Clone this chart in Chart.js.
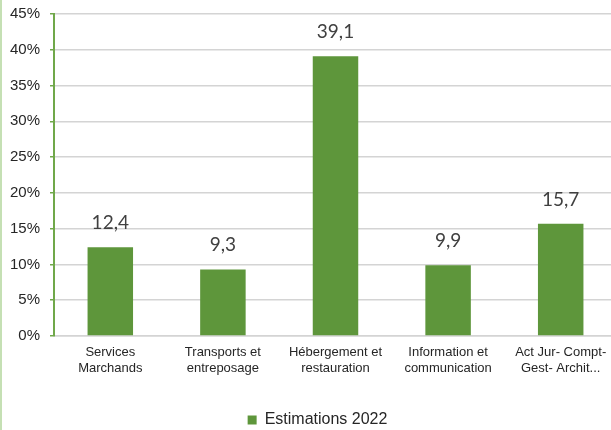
<!DOCTYPE html>
<html>
<head>
<meta charset="utf-8">
<script src="https://cdn.jsdelivr.net/npm/chart.js@4"></script>
<style>
  html, body { margin: 0; padding: 0; overflow: hidden; background: #fff; }
  .wrap { position: absolute; left: 0; top: 0; width: 618px; height: 430px; border-left: 2px solid #c5e0b4; }
</style>
</head>
<body>
<div class="wrap"><canvas class="my-chart" width="618" height="430"></canvas></div>
<script>
const categories = [
    ["Services", "Marchands"],
    ["Transports et", "entreposage"],
    ["Hébergement et", "restauration"],
    ["Information et", "communication"],
    ["Act Jur- Compt-", "Gest- Archit..."]
]
const values = [12.4, 9.3, 39.1, 9.9, 15.7]
const seriesName = "Estimations 2022"
const yTicks = [0, 5, 10, 15, 20, 25, 30, 35, 40, 45]

const green = "#5e963b"

// labels above the bars, french decimal comma
const barValues = {
    id: "barValues",
    afterDatasetsDraw(chart) {
        const ctx = chart.ctx
        const meta = chart.getDatasetMeta(0)
        ctx.save()
        ctx.font = "19px Lato"
        ctx.fillStyle = "#404040"
        ctx.textAlign = "center"
        ctx.textBaseline = "alphabetic"
        meta.data.forEach((bar, i) => {
            ctx.fillText(values[i].toFixed(1).replace(".", ","), bar.x, bar.y - 18)
        })
        ctx.restore()
    }
}

// the legend sits a little right of the chart centre and lower
const legendShift = {
    id: "legendShift",
    afterLayout(chart) {
        chart.legend.left += 8
        chart.legend.right += 8
        chart.legend.top += 8
        chart.legend.bottom += 8
    }
}

const myChart = document.querySelector(".my-chart").getContext('2d')

new Chart(myChart, {
    type: "bar",
    data: {
        labels: categories,
        datasets: [{
            label: seriesName,
            data: values,
            backgroundColor: green,
            barPercentage: 0.404,
            categoryPercentage: 1
        }]
    },
    options: {
        responsive: false,
        animation: false,
        layout: { padding: { top: 14, right: 3, left: 0, bottom: 0 } },
        scales: {
            x: {
                grid: { display: false, drawTicks: false },
                border: { display: true, color: "#d4d4d4", width: 1.5 },
                ticks: {
                    padding: 9,
                    maxRotation: 0,
                    autoSkip: false,
                    color: "#262626",
                    font: { family: "Liberation Sans", size: 13, lineHeight: 1.2 }
                },
                afterFit(scale) { scale.height = 64 }
            },
            y: {
                min: 0,
                max: 45,
                afterBuildTicks(scale) { scale.ticks = yTicks.map(v => ({ value: v })) },
                grid: { color: "#d4d4d4", lineWidth: 1.5, tickLength: 4, tickColor: "#70a84a" },
                border: { display: true, color: "#70a84a", width: 2 },
                ticks: {
                    padding: 10,
                    color: "#262626",
                    font: { family: "Liberation Sans", size: 15 },
                    callback: v => v + "%"
                },
                afterFit(scale) {
                    scale.width = 52
                    scale.paddingTop = 0
                    scale.paddingBottom = 0
                }
            }
        },
        plugins: {
            tooltip: { enabled: false },
            legend: {
                position: "bottom",
                labels: {
                    boxWidth: 9,
                    boxHeight: 9,
                    padding: 4,
                    color: "#262626",
                    font: { family: "Liberation Sans", size: 16 }
                }
            }
        }
    },
    plugins: [barValues, legendShift]
})
</script>
</body>
</html>
